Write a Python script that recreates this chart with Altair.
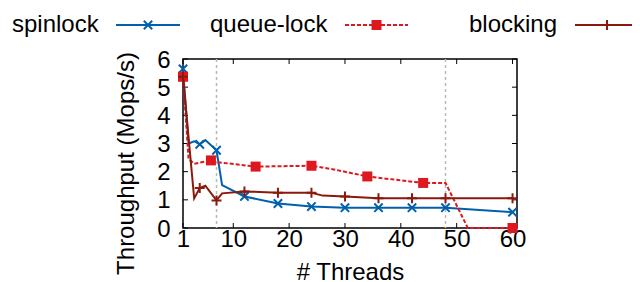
import altair as alt
import pandas as pd

# ---- data ----
spin_x = [1, 2, 3, 4, 5, 7, 8, 12, 18, 24, 30, 36, 42, 48, 60]
spin_y = [5.65, 3.0, 3.08, 2.97, 3.12, 2.76, 1.52, 1.12, 0.87, 0.76, 0.72, 0.72, 0.72, 0.72, 0.56]
spin_m = [1, 0, 0, 1, 0, 1, 0, 1, 1, 1, 1, 1, 1, 1, 1]

queue_x = [1, 2, 3, 6, 7, 14, 24, 28, 34, 44, 48, 52, 60]
queue_y = [5.37, 2.45, 2.28, 2.4, 2.34, 2.18, 2.21, 2.08, 1.83, 1.6, 1.6, 0.0, 0.0]
queue_m = [1, 0, 0, 1, 0, 1, 1, 0, 1, 1, 0, 0, 1]

block_x = [1, 3, 4, 5, 7, 8, 12, 18, 24, 26, 30, 36, 42, 48, 60]
block_y = [5.37, 1.05, 1.42, 1.5, 0.98, 1.23, 1.3, 1.25, 1.25, 1.15, 1.12, 1.06, 1.06, 1.06, 1.06]
block_m = [1, 0, 1, 0, 1, 0, 1, 1, 1, 0, 1, 1, 1, 1, 1]

marker_lines = [7, 48]
x_ticks = [1, 10, 20, 30, 40, 50, 60]
y_ticks = [0, 1, 2, 3, 4, 5, 6]

# ---- styling ----
W, H = 334, 169
FONT = "Liberation Sans"
FS = 24
BLUE = "#0060ad"
RED = "#dd181f"
DARK = "#8b1a0e"
XSHAPE = "M-1,-1L1,1M-1,1L1,-1"
PSHAPE = "M-1,0L1,0M0,-1L0,1"

xscale = alt.Scale(domain=[1, 60.8], nice=False, zero=False)
yscale = alt.Scale(domain=[0, 6], nice=False)
xaxis = alt.Axis(values=x_ticks, ticks=False, domain=False, grid=False,
                 labelFont=FONT, labelFontSize=FS, labelColor="black",
                 labelPadding=-1, labelFlush=False,
                 title="# Threads", titleFont=FONT, titleFontSize=FS,
                 titleFontWeight="normal", titleColor="black",
                 titleY=51, titleBaseline="alphabetic")
yaxis = alt.Axis(values=y_ticks, ticks=False, domain=False, grid=False,
                 labelFont=FONT, labelFontSize=FS, labelColor="black",
                 labelPadding=13, labelFlush=False, labelOffset=1,
                 title="Throughput (Mops/s)", titleFont=FONT, titleFontSize=FS,
                 titleFontWeight="normal", titleColor="black",
                 titleX=-57, titleY=104, titleAlign="center",
                 titleBaseline="middle")
X = alt.X("x:Q", scale=xscale, axis=xaxis)
Y = alt.Y("y:Q", scale=yscale, axis=yaxis)


def frame(xs, ys, ms):
    return pd.DataFrame({"x": xs, "y": ys, "m": ms})


layers = []

# vertical dashed lines
layers.append(
    alt.Chart(pd.DataFrame({"x": marker_lines}))
    .mark_rule(color="#b8b8b8", strokeDash=[3, 3], strokeWidth=1.5)
    .encode(x=X)
)

# inward ticks (gnuplot style, mirrored)
xt = pd.DataFrame({"x": x_ticks})
yt = pd.DataFrame({"y": y_ticks})
layers.append(alt.Chart(xt).mark_rule(color="black", strokeWidth=1)
              .encode(x=X, y=alt.value(H), y2=alt.value(H - 5)))
layers.append(alt.Chart(xt).mark_rule(color="black", strokeWidth=1)
              .encode(x=X, y=alt.value(0), y2=alt.value(5)))
layers.append(alt.Chart(yt).mark_rule(color="black", strokeWidth=1)
              .encode(y=Y, x=alt.value(0), x2=alt.value(5)))
layers.append(alt.Chart(yt).mark_rule(color="black", strokeWidth=1)
              .encode(y=Y, x=alt.value(W), x2=alt.value(W - 5)))

XPT = dict(shape=XSHAPE, filled=False, size=70, strokeWidth=2)
SPT = dict(shape="square", filled=True, size=100, strokeWidth=0)
PPT = dict(shape=PSHAPE, filled=False, size=100, strokeWidth=2)

series = [
    (frame(spin_x, spin_y, spin_m), BLUE, None, XPT),
    (frame(queue_x, queue_y, queue_m), RED, [4, 2], SPT),
    (frame(block_x, block_y, block_m), DARK, None, PPT),
]

for df, col, dash, pt in series:
    lkw = dict(color=col, strokeWidth=2)
    if dash:
        lkw["strokeDash"] = dash
    layers.append(alt.Chart(df).mark_line(**lkw).encode(x=X, y=Y))
    layers.append(
        alt.Chart(df).transform_filter("datum.m == 1")
        .mark_point(color=col, opacity=1, **pt).encode(x=X, y=Y)
    )

# ---- manual legend (label left of sample, as in gnuplot) ----
one = pd.DataFrame({"a": [0]})
LY = -34
legend_items = [
    ("spinlock", -171, -67, -3, BLUE, None, XPT),
    ("queue-lock", 27, 162, 225, RED, [4, 2], SPT),
    ("blocking", 286, 392, 456, DARK, None, PPT),
]
for label, tx, l1, l2, col, dash, pt in legend_items:
    layers.append(
        alt.Chart(one).mark_text(align="left", baseline="middle", font=FONT,
                                 fontSize=FS, color="black")
        .encode(x=alt.value(tx), y=alt.value(LY), text=alt.value(label))
    )
    rkw = dict(color=col, strokeWidth=2)
    if dash:
        rkw["strokeDash"] = dash
    layers.append(
        alt.Chart(one).mark_rule(**rkw)
        .encode(x=alt.value(l1), x2=alt.value(l2), y=alt.value(LY))
    )
    layers.append(
        alt.Chart(one).mark_point(color=col, opacity=1, **pt)
        .encode(x=alt.value((l1 + l2) / 2), y=alt.value(LY))
    )

chart = (
    alt.layer(*layers)
    .properties(width=W, height=H, autosize="none", background="white",
                padding={"left": 175, "top": 51, "right": 115, "bottom": 54})
    .configure_view(stroke="black", strokeWidth=1.5)
)

chart.save("out.html", embed_options={"renderer": "svg", "actions": False})
